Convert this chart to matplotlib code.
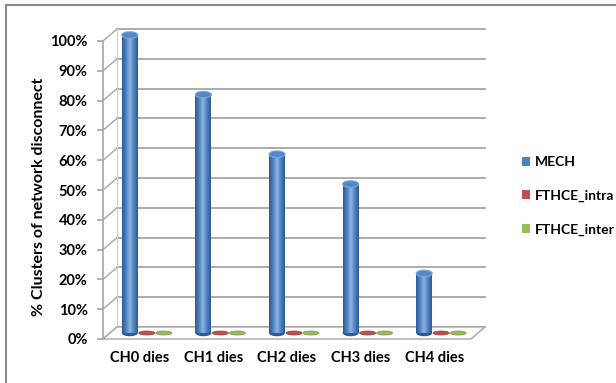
import matplotlib
matplotlib.use("Agg")
import matplotlib.pyplot as plt
import numpy as np
from matplotlib.patches import Ellipse, Rectangle, Polygon, Patch
from matplotlib.lines import Line2D
from matplotlib.colors import LinearSegmentedColormap

plt.rcParams['font.family'] = ['Lato', 'DejaVu Sans']
plt.rcParams['font.weight'] = 'bold'

categories = ['CH0 dies', 'CH1 dies', 'CH2 dies', 'CH3 dies', 'CH4 dies']
series = ['MECH', 'FTHCE_intra', 'FTHCE_inter']
mech = [100, 80, 60, 50, 20]
fthce_intra = [0, 0, 0, 0, 0]
fthce_inter = [0, 0, 0, 0, 0]
values = [mech, fthce_intra, fthce_inter]
yticks = list(range(0, 101, 10))

colors = ['#4f81bd', '#c0504d', '#9bbb59']
dark = ['#2b5a94', '#963a38', '#76923c']
light = ['#8db3e2', '#d99694', '#c3d69b']
tops = ['#5288c9', '#c0504d', '#9bbb59']
grid_c = '#a6a6a6'

W, H = 616, 383
fig = plt.figure(figsize=(W / 100, H / 100), dpi=100)
# front plane of the plot area, in pixels
x0, x1, ytop, ybot = 103, 471, 41, 339
ax = fig.add_axes([x0 / W, 1 - ybot / H, (x1 - x0) / W, (ybot - ytop) / H])
ax.set_xlim(-0.5, len(categories) - 0.5)
ax.set_ylim(0, 100)

px_x = (x1 - x0) / len(categories)     # pixels per x unit
px_y = (ybot - ytop) / 100.0           # pixels per y unit
dx, dy = 14 / px_x, 12 / px_y          # depth offset of the back wall

for s in ['top', 'right', 'bottom']:
    ax.spines[s].set_visible(False)
ax.spines['left'].set_color(grid_c)
ax.spines['left'].set_linewidth(1.2)
ax.set_yticks(yticks)
ax.set_yticklabels([f'{t}%' for t in yticks], fontsize=10.5, fontweight='bold')
ax.tick_params(axis='y', length=4, width=1.2, color=grid_c, pad=7)
ax.set_xticks(range(len(categories)))
ax.set_xticklabels(categories, fontsize=10.5, fontweight='bold')
ax.tick_params(axis='x', length=0, pad=9)

xl, xr = -0.5, len(categories) - 0.5
# back wall gridlines and left side wall
for t in yticks:
    ax.plot([xl + dx, xr + dx], [t + dy, t + dy], color=grid_c, lw=1.3, clip_on=False, zorder=1)
    ax.plot([xl, xl + dx], [t, t + dy], color=grid_c, lw=1.0, clip_on=False, zorder=1)
ax.plot([xl + dx, xl + dx], [dy, 100 + dy], color='#d0d0d0', lw=0.8, clip_on=False, zorder=1)

# floor
floor = Polygon([[xl, 0], [xl + dx, dy], [xr + dx, dy], [xr, 0]], closed=True,
                facecolor='white', edgecolor=grid_c, lw=1.0, clip_on=False, zorder=2)
ax.add_patch(floor)

bw = 16 / px_x          # cylinder width
eh = 6.5 / px_y         # ellipse height of cylinder caps
step = 17 / px_x        # spacing between series inside a group

for k, vals in enumerate(values):
    cmap = LinearSegmentedColormap.from_list(
        'c%d' % k, [dark[k], colors[k], light[k], colors[k], dark[k]], N=64)
    for i, v in enumerate(vals):
        xc = i + (k - 1) * step + dx / 2
        yb = dy / 2
        if v > 0:
            body = Rectangle((xc - bw / 2, yb), bw, v, facecolor=colors[k],
                             edgecolor='none', clip_on=False, zorder=4)
            ax.add_patch(body)
            grad = np.linspace(0, 1, 64).reshape(1, -1)
            im = ax.imshow(grad, cmap=cmap, aspect='auto', zorder=4.1,
                           extent=[xc - bw / 2, xc + bw / 2, yb - eh / 2, yb + v],
                           interpolation='bilinear')
            im.set_clip_path(body)
            ax.add_patch(Ellipse((xc, yb), bw, eh, facecolor=dark[k],
                                 edgecolor='none', clip_on=False, zorder=3.9))
            ax.add_patch(Ellipse((xc, yb + v), bw, eh, facecolor=tops[k],
                                 edgecolor='#7aa5da', lw=0.8, clip_on=False, zorder=5))
        else:
            ax.add_patch(Ellipse((xc, yb), bw, 4 / px_y, facecolor=colors[k],
                                 edgecolor=dark[k], lw=0.5, clip_on=False, zorder=5))

ax.set_ylim(0, 100)
ax.set_xlim(xl, xr)

fig.text(39 / W, 1 - 197 / H, '% Clusters of network disconnect', rotation=90,
         ha='center', va='center', fontsize=11.5, fontweight='bold')

handles = [Patch(facecolor=c, edgecolor='none') for c in colors]
fig.legend(handles, series, loc='center left', bbox_to_anchor=(515 / W, 1 - 196 / H),
           frameon=False, handlelength=0.6, handleheight=0.6,
           handletextpad=0.35, labelspacing=1.55, borderpad=0,
           prop={'weight': 'bold', 'size': 10})

# chart border (only top and left edges fall inside the image)
fig.add_artist(Line2D([6 / W, 1], [1 - 5 / H, 1 - 5 / H], color='#8c8c8c', lw=1.5))
fig.add_artist(Line2D([6 / W, 6 / W], [0, 1 - 5 / H], color='#8c8c8c', lw=1.5))

fig.savefig('out.png', dpi=100)
